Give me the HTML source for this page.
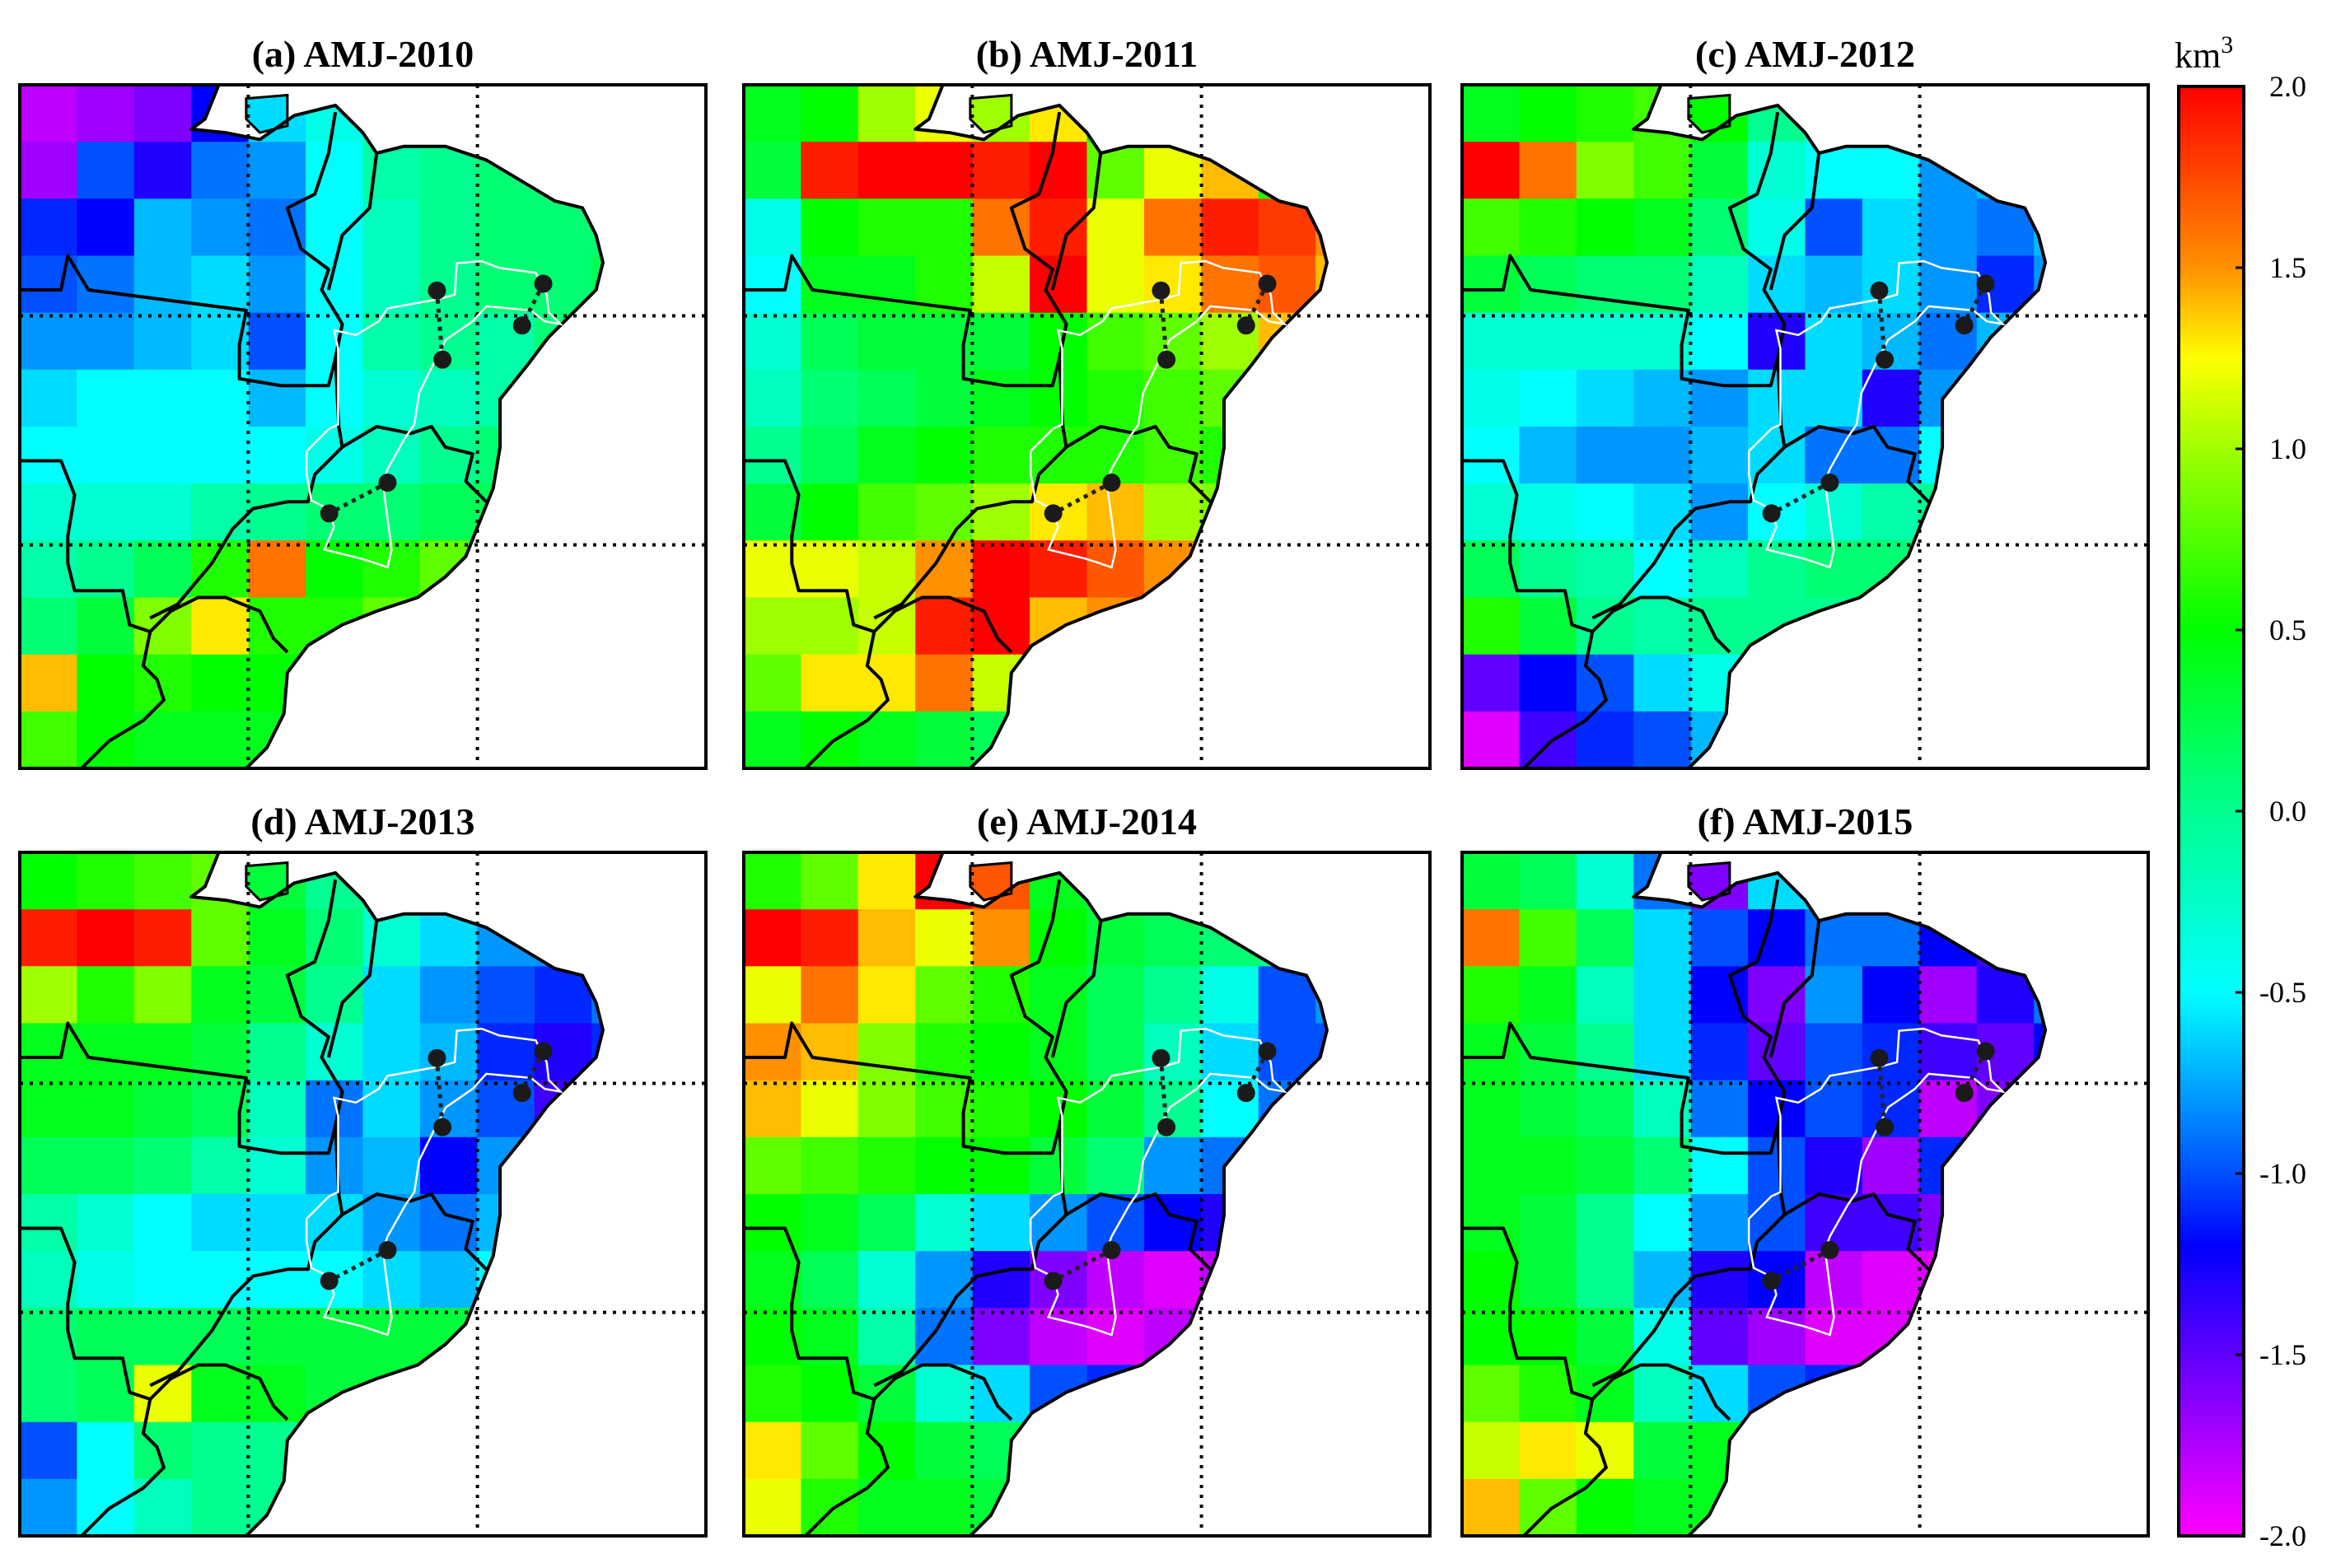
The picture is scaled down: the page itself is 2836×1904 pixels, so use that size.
<!DOCTYPE html>
<html><head><meta charset="utf-8"><title>AMJ anomalies 2010-2015</title>
<style>html,body{margin:0;padding:0;background:#fff}svg{display:block}</style></head>
<body>
<svg id="fig" xmlns="http://www.w3.org/2000/svg" width="2836" height="1904" viewBox="0 0 2836 1904"></svg>
<script>
const panelTitles = ["(a) AMJ-2010","(b) AMJ-2011","(c) AMJ-2012","(d) AMJ-2013","(e) AMJ-2014","(f) AMJ-2015"];
const tickValues = [2.0,1.5,1.0,0.5,0.0,-0.5,-1.0,-1.5,-2.0];
const tickLabels = ["2.0","1.5","1.0","0.5","0.0","-0.5","-1.0","-1.5","-2.0"];
const grid2010 = [
[-1.8,-1.7,-1.6,-1.2,-0.6,-0.4,-0.2,-0.2,0,0,0,0],
[-1.7,-1.0,-1.3,-0.9,-0.8,-0.5,-0.1,0,0.1,0.1,0,0],
[-1.1,-1.2,-0.7,-0.8,-0.9,-0.5,-0.2,0,0.1,0.1,0.1,0],
[-1.0,-0.9,-0.7,-0.6,-0.8,-0.5,-0.2,0,0.1,0.1,0.2,0],
[-0.8,-0.8,-0.7,-0.6,-1.0,-0.5,-0.1,0,-0.1,0.1,0,0],
[-0.6,-0.5,-0.5,-0.5,-0.7,-0.5,-0.3,-0.2,-0.1,0,0,0],
[-0.5,-0.5,-0.5,-0.5,-0.5,-0.4,-0.2,0,0.1,0.1,0,0],
[-0.3,-0.3,-0.3,-0.1,0,0.1,0.1,0.2,0.2,0,0,0],
[-0.1,0,0.2,0.6,1.6,0.5,0.6,0.8,0.7,0.5,0,0],
[0.1,0.3,0.9,1.3,0.6,0.6,0.8,0.6,0.4,0,0,0],
[1.4,0.5,0.6,0.5,0.5,0.4,0.4,0,0,0,0,0],
[0.7,0.5,0.4,0.4,0.4,0.4,0,0,0,0,0,0]];
const grid2011 = [
[0.4,0.5,1.0,1.2,1.0,1.3,0.5,0.6,0,0,0,0],
[0.3,1.9,2.0,2.0,1.9,2.0,0.8,1.2,1.4,0.6,0,0],
[-0.4,0.5,0.6,0.6,1.6,1.9,1.2,1.6,1.9,1.8,1.5,0.5],
[-0.5,0.4,0.4,0.6,1.1,2.0,1.2,1.3,1.6,1.7,1.4,0.8],
[-0.3,0.2,0.3,0.3,0.3,0.5,0.7,0.8,1.0,1.4,1.1,0.6],
[-0.2,0.1,0.2,0.3,0.4,0.5,0.6,0.7,0.8,0.6,0.5,0.4],
[0,0.2,0.4,0.5,0.6,0.6,0.6,0.7,0.6,0.5,0.4,0.3],
[0.3,0.5,0.7,0.8,1.0,1.3,1.4,1.0,0.9,0.6,0.5,0.4],
[1.2,1.2,1.1,1.5,2.0,1.9,1.7,1.5,1.2,0.9,0.6,0.4],
[1.0,1.0,1.1,1.9,2.0,1.4,1.5,1.4,1.2,0.8,0.6,0],
[0.8,1.3,1.3,1.6,1.1,0.8,0.6,0.5,0,0,0,0],
[0.4,0.5,0.4,0.3,0.2,0.2,0,0,0,0,0,0]];
const grid2012 = [
[0.4,0.5,0.6,0.7,0.5,0,-0.3,-0.3,0,0,0,0],
[2.0,1.6,0.9,0.7,0.3,-0.3,-0.5,-0.5,-0.8,-0.7,-0.5,0],
[0.7,0.6,0.5,0.4,0.1,-0.4,-1.0,-0.6,-0.8,-0.9,-0.7,-0.5],
[0.3,0.2,0.1,0.1,-0.2,-0.6,-0.7,-0.6,-0.8,-1.1,-0.8,-0.5],
[-0.3,-0.3,-0.3,-0.3,-0.5,-1.3,-0.6,-0.7,-0.9,-0.7,-0.5,0],
[-0.4,-0.5,-0.6,-0.7,-0.8,-0.6,-0.6,-1.3,-0.8,-0.6,-0.2,0],
[-0.5,-0.7,-0.8,-0.8,-0.7,-0.6,-0.9,-0.9,-0.5,-0.3,-0.2,0],
[-0.3,-0.4,-0.5,-0.6,-0.8,-0.5,-0.3,-0.1,0,0.1,0,0],
[0.2,0,-0.1,-0.5,-0.2,0,0.1,0.1,0.1,0.1,0,0],
[0.6,0.3,0,-0.1,0,0,0,0,0,0,0,0],
[-1.5,-1.2,-1.0,-0.6,-0.4,-0.2,0,0,0,0,0,0],
[-1.9,-1.4,-1.1,-1.0,-0.7,-0.2,0,0,0,0,0,0]];
const grid2013 = [
[0.5,0.6,0.7,0.8,0.3,0,-0.1,-0.2,0,0,0,0],
[1.9,2.0,1.9,0.8,0.4,0.1,-0.3,-0.6,-0.8,-0.8,0,0],
[1.0,0.6,0.9,0.4,0.3,0,-0.6,-0.8,-1.0,-1.1,-0.9,-0.6],
[0.4,0.4,0.4,0.3,0,-0.3,-0.6,-0.7,-1.1,-1.3,-1.1,-0.8],
[0.4,0.4,0.3,0.2,-0.2,-0.9,-0.6,-0.8,-1.0,-1.4,-1.0,-0.3],
[0.2,0.2,0.1,-0.1,-0.3,-0.8,-0.7,-1.2,-0.8,-0.8,-0.3,0],
[-0.1,-0.3,-0.5,-0.6,-0.6,-0.6,-0.8,-0.9,-0.7,-0.8,-0.2,0],
[-0.2,-0.4,-0.5,-0.5,-0.5,-0.5,-0.6,-0.7,-0.5,-0.4,0,0],
[0.1,0.2,0.2,0.2,0.3,0.3,0.3,0.3,0.3,0.2,0,0],
[0.1,0.2,1.2,0.4,0.4,0.3,0.3,0.2,0,0,0,0],
[-1.0,-0.5,0.1,0,0,0,0,0,0,0,0,0],
[-0.8,-0.5,-0.2,0,0,0,0,0,0,0,0,0]];
const grid2014 = [
[0.6,0.8,1.3,2.0,1.7,0.4,0.2,0.1,0,0,0,0],
[2.0,1.9,1.4,1.2,1.5,0.5,0.3,0.2,0.1,0,0,0],
[1.2,1.6,1.3,0.8,0.6,0.4,0.2,0,-0.4,-1.0,-0.8,-0.3],
[1.5,1.4,0.9,0.6,0.5,0.4,0.2,-0.2,-0.6,-1.0,-1.0,-0.9],
[1.4,1.2,0.9,0.7,0.6,0.5,0.3,0,-0.5,-0.9,-1.1,-0.4],
[0.8,0.7,0.6,0.5,0.5,0.3,0.1,-0.8,-0.9,-0.8,-0.3,0],
[0.5,0.4,0.2,-0.3,-0.6,-0.8,-1.0,-1.2,-1.3,-1.1,-0.5,0],
[0.4,0.2,-0.3,-0.8,-1.3,-1.6,-1.8,-1.9,-1.8,-1.4,-0.6,0],
[0.5,0.4,-0.1,-0.9,-1.6,-1.8,-1.9,-1.8,-1.5,-1.0,0,0],
[0.6,0.5,0.3,-0.3,-0.6,-1.0,-1.1,-1.0,-0.8,0,0,0],
[1.3,0.8,0.5,0.3,0.2,0.1,0,0,0,0,0,0],
[1.2,0.6,0.4,0.4,0.3,0.3,0,0,0,0,0,0]];
const grid2015 = [
[0.3,0.2,-0.3,-0.9,-1.6,-0.6,-0.6,-0.8,0,0,0,0],
[1.6,0.7,0.2,-0.6,-1.0,-1.2,-0.9,-0.9,-1.2,-1.4,-1.0,0],
[0.6,0.4,-0.2,-0.6,-1.2,-1.6,-0.8,-1.2,-1.7,-1.3,-0.9,-0.7],
[0.4,0.3,0,-0.6,-1.1,-1.5,-1.0,-1.1,-1.4,-1.5,-1.2,-0.9],
[0.4,0.3,0.2,-0.2,-0.9,-1.2,-1.0,-1.1,-1.8,-1.6,-1.0,-0.3],
[0.4,0.4,0.3,0.1,-0.5,-1.0,-1.3,-1.7,-1.1,-1.2,-0.4,0],
[0.4,0.3,0,-0.5,-0.8,-1.0,-1.4,-1.4,-1.6,-1.2,-0.5,0],
[0.5,0.3,0,-0.7,-1.3,-1.2,-1.8,-1.9,-1.9,-1.3,0,0],
[0.5,0.5,0.3,-0.4,-1.5,-1.7,-1.9,-1.9,-1.6,-1.0,0,0],
[0.8,0.6,0.4,-0.2,-0.6,-1.0,-1.1,-0.9,0,0,0,0],
[1.1,1.3,1.2,0.3,0.4,0.3,0.3,0,0,0,0,0],
[1.4,0.8,0.5,0.4,0.4,0.4,0,0,0,0,0,0]];
const grids = [grid2010,grid2011,grid2012,grid2013,grid2014,grid2015];

const NS='http://www.w3.org/2000/svg';
const svg=document.getElementById('fig');
const panelX=[24,903,1775], panelY=[103,1035], PW=833, PH=830;
const cmap=[[-2,[255,0,255]],[-1.5,[96,0,255]],[-1.2,[0,0,255]],[-1,[0,80,255]],[-0.5,[0,255,255]],[0,[0,255,144]],[0.5,[0,255,0]],[1.0,[160,255,0]],[1.25,[255,255,0]],[1.5,[255,144,0]],[2,[255,0,0]]];
function color(v){v=Math.max(-2,Math.min(2,v));for(let i=0;i<cmap.length-1;i++){const a=cmap[i],b=cmap[i+1];if(v<=b[0]){const t=(v-a[0])/(b[0]-a[0]);const c=a[1].map((x,k)=>Math.round(x+(b[1][k]-x)*t));return 'rgb('+c.join(',')+')';}}return 'rgb(255,0,0)';}
function el(tag,attrs,parent){const e=document.createElementNS(NS,tag);for(const k in attrs)e.setAttribute(k,attrs[k]);(parent||svg).appendChild(e);return e;}
function pts(arr,x0,y0){return arr.map(p=>(x0+p[0]*PW).toFixed(1)+','+(y0+p[1]*PH).toFixed(1)).join(' ');}

const ocean=[[0.29,0],[0.27,0.05],[0.25,0.065],[0.30,0.07],[0.35,0.08],[0.40,0.045],[0.46,0.03],[0.50,0.07],[0.52,0.10],[0.56,0.09],[0.62,0.09],[0.68,0.11],[0.73,0.14],[0.78,0.17],[0.82,0.18],[0.84,0.22],[0.85,0.26],[0.84,0.30],[0.80,0.34],[0.77,0.37],[0.74,0.41],[0.70,0.46],[0.70,0.53],[0.69,0.59],[0.67,0.64],[0.65,0.69],[0.62,0.72],[0.58,0.75],[0.52,0.77],[0.47,0.79],[0.42,0.82],[0.39,0.86],[0.385,0.92],[0.36,0.97],[0.33,1],[1,1],[1,0]];
const island=[[0.33,0.02],[0.39,0.015],[0.39,0.06],[0.35,0.07],[0.33,0.05]];
const borders=[
 [[0,0.30],[0.06,0.30],[0.07,0.25],[0.10,0.30],[0.33,0.33],[0.32,0.38],[0.32,0.43],[0.38,0.44],[0.45,0.44],[0.46,0.40],[0.47,0.35],[0.44,0.30],[0.45,0.27],[0.41,0.24],[0.39,0.18],[0.43,0.16],[0.45,0.10],[0.46,0.04]],
 [[0,0.55],[0.06,0.55],[0.08,0.60],[0.07,0.66],[0.07,0.70],[0.08,0.74],[0.15,0.74],[0.16,0.79],[0.19,0.80],[0.22,0.77],[0.26,0.75],[0.30,0.75],[0.35,0.77],[0.37,0.81],[0.39,0.83]],
 [[0.19,0.80],[0.18,0.85],[0.20,0.87],[0.21,0.90],[0.18,0.93],[0.13,0.96],[0.09,1.0]],
 [[0.19,0.78],[0.23,0.76],[0.28,0.70],[0.31,0.65],[0.34,0.62],[0.39,0.61],[0.42,0.61],[0.43,0.57],[0.47,0.53],[0.52,0.50],[0.57,0.51],[0.60,0.50],[0.62,0.53],[0.66,0.54],[0.65,0.58],[0.67,0.60],[0.68,0.61]],
 [[0.52,0.10],[0.51,0.18],[0.47,0.22],[0.45,0.30]],
 [[0.47,0.35],[0.46,0.40],[0.465,0.50],[0.47,0.53]]];
const basin=[[0.418,0.536],[0.451,0.503],[0.464,0.497],[0.464,0.386],[0.458,0.359],[0.490,0.366],[0.523,0.346],[0.536,0.327],[0.608,0.314],[0.634,0.307],[0.637,0.261],[0.673,0.258],[0.699,0.268],[0.752,0.275],[0.768,0.307],[0.771,0.333],[0.788,0.350],[0.765,0.346],[0.745,0.330],[0.712,0.327],[0.680,0.324],[0.660,0.346],[0.621,0.373],[0.601,0.412],[0.582,0.451],[0.575,0.497],[0.562,0.516],[0.536,0.562],[0.529,0.582],[0.542,0.680],[0.536,0.706],[0.516,0.699],[0.497,0.693],[0.444,0.680],[0.458,0.647],[0.451,0.621],[0.425,0.608],[0.418,0.569]];
const dots=[[0.608,0.301],[0.763,0.291],[0.732,0.352],[0.616,0.402],[0.536,0.582],[0.451,0.627]];
const dotLinks=[[0,3],[1,2],[4,5]];

for(let p=0;p<6;p++){
  const x0=panelX[p%3], y0=panelY[Math.floor(p/3)];
  const g=el('g',{});
  
  
  const t=el('text',{x:x0+PW/2,y:y0-22,'text-anchor':'middle','font-family':'Liberation Serif, serif','font-weight':'bold','font-size':46,fill:'#000'},g);
  t.textContent=panelTitles[p];
  
  
  const data=grids[p], rows=data.length, cols=data[0].length;
  const cw=PW/cols, ch=PH/rows;
  const cg=el('g',{},g);
  
  
  for(let r=0;r<rows;r++)for(let c=0;c<cols;c++){
    const rc=el('rect',{x:(x0+c*cw).toFixed(1),y:(y0+r*ch).toFixed(1),width:(cw+0.8).toFixed(1),height:(ch+0.8).toFixed(1),fill:color(data[r][c])},cg);
    
    
  }
  const oc=el('polygon',{points:pts(ocean,x0,y0),fill:'#fff'},g);
  
  
  const isl=el('polygon',{points:pts(island,x0,y0),fill:color(data[0][4]),stroke:'#000','stroke-width':3},g);
  
  
  const coast=el('polyline',{points:pts(ocean.slice(0,35),x0,y0),fill:'none',stroke:'#000','stroke-width':4,'stroke-linejoin':'round'},g);
  
  
  // gridlines
  [[0.333,0,0.333,1],[0.667,0,0.667,1],[0,0.338,1,0.338],[0,0.673,1,0.673]].forEach(l=>{
    const gl=el('line',{x1:x0+l[0]*PW,y1:y0+l[1]*PH,x2:x0+l[2]*PW,y2:y0+l[3]*PH,stroke:'#000','stroke-width':4,'stroke-dasharray':'4 8'},g);
    
    
  });
  borders.forEach(b=>{
    const bl=el('polyline',{points:pts(b,x0,y0),fill:'none',stroke:'#000','stroke-width':4,'stroke-linejoin':'round'},g);
    
    
  });
  const bs=el('polygon',{points:pts(basin,x0,y0),fill:'none',stroke:'#fff','stroke-width':2.5},g);
  
  
  dotLinks.forEach(l=>{
    const a=dots[l[0]],b=dots[l[1]];
    const ln=el('line',{x1:x0+a[0]*PW,y1:y0+a[1]*PH,x2:x0+b[0]*PW,y2:y0+b[1]*PH,stroke:'#222','stroke-width':5,'stroke-dasharray':'5 6'},g);
    
    
  });
  dots.forEach(d=>{
    const cc=el('circle',{cx:x0+d[0]*PW,cy:y0+d[1]*PH,r:11,fill:'#1a1a1a'},g);
    
    
  });
  const fr=el('rect',{x:x0,y:y0,width:PW,height:PH,fill:'none',stroke:'#000','stroke-width':4},g);
  
  
}

// colorbar
const CBX=2645,CBY=105,CBW=79,CBH=1760;
const defs=el('defs',{});
const lg=el('linearGradient',{id:'cbg',x1:0,y1:0,x2:0,y2:1},defs);
cmap.slice().reverse().forEach(s=>{el('stop',{offset:((2-s[0])/4).toFixed(4),'stop-color':'rgb('+s[1].join(',')+')'},lg);});
const cb=el('rect',{x:CBX,y:CBY,width:CBW,height:CBH,fill:'url(#cbg)',stroke:'#000','stroke-width':4});


tickValues.forEach((v,i)=>{
  const y=CBY+(2-v)/4*CBH;
  const tk=el('line',{x1:CBX+CBW-10,y1:y,x2:CBX+CBW,y2:y,stroke:'#000','stroke-width':3});
  
  
  const tx=el('text',{x:2800,y:y+12,'text-anchor':'end','font-family':'Liberation Serif, serif','font-size':36,fill:'#000'});
  tx.textContent=tickLabels[i];
  
  
});
const unit=el('text',{x:2640,y:82,'font-family':'Liberation Serif, serif','font-size':44,fill:'#000'});
unit.innerHTML='km<tspan dy="-18" font-size="30">3</tspan>';


</script>
</body></html>
